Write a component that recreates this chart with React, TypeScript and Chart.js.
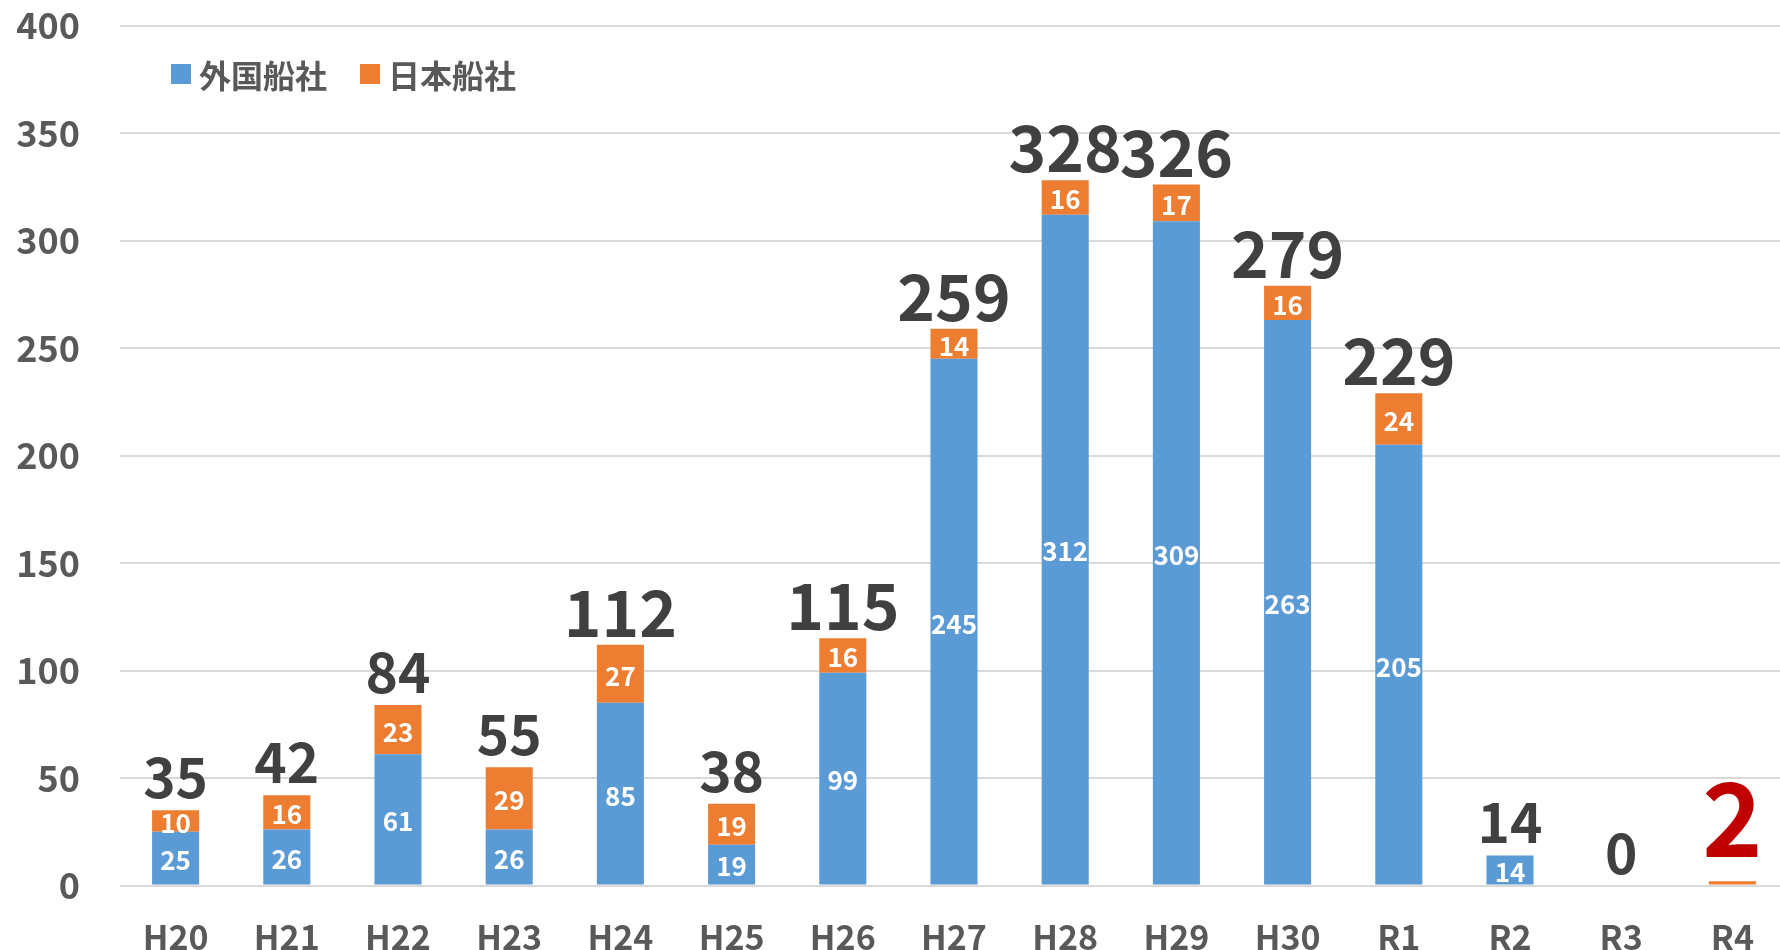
import React, { useEffect, useRef } from "react";
import { Chart, registerables } from "chart.js";

Chart.register(...registerables);

const categories = ["H20", "H21", "H22", "H23", "H24", "H25", "H26", "H27", "H28", "H29", "H30", "R1", "R2", "R3", "R4"];
const foreignLines = [25, 26, 61, 26, 85, 19, 99, 245, 312, 309, 263, 205, 14, 0, 0];
const japaneseLines = [10, 16, 23, 29, 27, 19, 16, 14, 16, 17, 16, 24, 0, 0, 2];
const seriesNames = ["外国船社", "日本船社"];
const yTicks = [0, 50, 100, 150, 200, 250, 300, 350, 400];
const highlightCategory = "R4";

const FONT = '"Noto Sans CJK JP", "Noto Sans", sans-serif';
const BLUE = "#5B9BD5";
const ORANGE = "#ED7D31";

const labelPlugin = {
  id: "valueLabels",
  afterDatasetsDraw(chart: any) {
    const ctx = chart.ctx;
    const xs = chart.scales.x;
    const ys = chart.scales.y;
    ctx.save();
    // segment labels
    ctx.textAlign = "center";
    ctx.textBaseline = "middle";
    ctx.fillStyle = "#ffffff";
    ctx.font = `bold 26px ${FONT}`;
    chart.data.datasets.forEach((ds: any, di: number) => {
      const meta = chart.getDatasetMeta(di);
      meta.data.forEach((bar: any, i: number) => {
        const v = ds.data[i];
        if (v < 5) return;
        const p = bar.getProps(["x", "y", "base"], true);
        ctx.fillText(String(v), p.x, (p.y + p.base) / 2 + 2);
      });
    });
    // totals
    categories.forEach((c, i) => {
      const total = foreignLines[i] + japaneseLines[i];
      const px = xs.getPixelForValue(i);
      const py = ys.getPixelForValue(total);
      let size = total >= 100 ? 64 : 55;
      let color = "#404040";
      let gap = total >= 100 ? 8 : 12;
      if (c === highlightCategory) {
        size = 102;
        color = "#C00000";
        gap = 24;
      }
      ctx.font = `bold ${size}px ${FONT}`;
      ctx.fillStyle = color;
      ctx.textBaseline = "alphabetic";
      ctx.fillText(String(total), px, py - gap);
    });
    ctx.restore();
  },
};

export default function App() {
  const ref = useRef<HTMLCanvasElement | null>(null);
  useEffect(() => {
    document.body.style.margin = "0";
    const canvas = ref.current!;
    const chart = new Chart(canvas, {
      type: "bar",
      data: {
        labels: categories,
        datasets: [
          {
            label: seriesNames[0],
            data: foreignLines,
            backgroundColor: BLUE,
            barPercentage: 0.423,
            categoryPercentage: 1,
          },
          {
            label: seriesNames[1],
            data: japaneseLines,
            backgroundColor: ORANGE,
            barPercentage: 0.423,
            categoryPercentage: 1,
          },
        ],
      },
      options: {
        responsive: false,
        animation: false,
        layout: { padding: { top: 25.5, right: 0, left: 0, bottom: 0 } },
        plugins: {
          legend: { display: false },
          tooltip: { enabled: false },
        },
        scales: {
          x: {
            stacked: true,
            grid: { display: false },
            border: { display: false },
            ticks: {
              color: "#595959",
              font: { family: FONT, size: 34, weight: "bold" },
              padding: 23,
              maxRotation: 0,
              autoSkip: false,
            },
            afterFit(scale: any) {
              scale.height = 64.5;
              scale.paddingLeft = 0;
              scale.paddingRight = 0;
            },
          },
          y: {
            stacked: true,
            min: 0,
            max: 400,
            afterBuildTicks(scale: any) {
              scale.ticks = yTicks.map((v) => ({ value: v }));
            },
            grid: { color: "#d9d9d9", lineWidth: 2, drawTicks: false },
            border: { display: false },
            ticks: {
              color: "#595959",
              font: { family: FONT, size: 36, weight: "bold" },
              padding: 40,
            },
            afterFit(scale: any) {
              scale.width = 120;
              scale.paddingTop = 0;
              scale.paddingBottom = 0;
            },
          },
        },
      },
      plugins: [labelPlugin],
    });
    return () => chart.destroy();
  }, []);

  const legendText: React.CSSProperties = {
    fontFamily: FONT,
    fontSize: 32,
    fontWeight: "bold",
    color: "#595959",
    lineHeight: "32px",
  };
  const sq = (c: string): React.CSSProperties => ({
    display: "inline-block",
    width: 20,
    height: 20,
    background: c,
    marginRight: 8,
  });

  return (
    <div style={{ position: "relative", width: 1780, height: 950, overflow: "hidden", background: "#fff" }}>
      <canvas ref={ref} width={1788} height={950} style={{ display: "block" }} />
      <div style={{ position: "absolute", left: 171, top: 58, display: "flex", alignItems: "center" }}>
        <span style={sq(BLUE)} />
        <span style={legendText}>{seriesNames[0]}</span>
        <span style={{ ...sq(ORANGE), marginLeft: 33 }} />
        <span style={legendText}>{seriesNames[1]}</span>
      </div>
    </div>
  );
}
